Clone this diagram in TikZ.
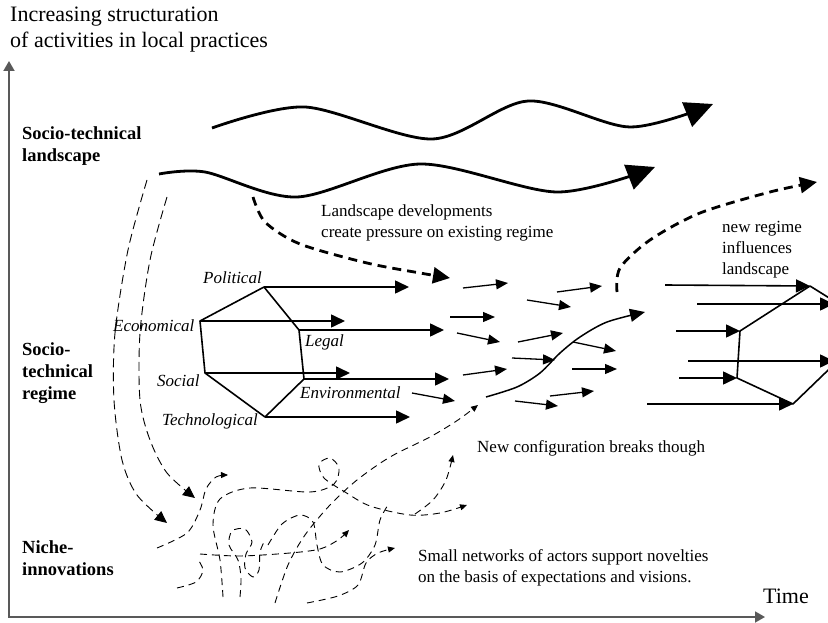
\documentclass[tikz,border=0pt]{standalone}
\usepackage{fontspec}
\setmainfont{Liberation Serif}
\usetikzlibrary{arrows.meta}

\tikzset{
	txt/.style={font=\fontsize{17}{21}\selectfont,anchor=base west,inner sep=0pt,align=left},
	big/.style={font=\fontsize{22}{25.5}\selectfont,anchor=base west,inner sep=0pt,align=left},
	tier/.style={font=\fontsize{18.5}{22}\selectfont\bfseries,anchor=base west,inner sep=0pt,align=left},
	dim/.style={font=\fontsize{17}{21}\selectfont\itshape,anchor=base west,inner sep=0pt},
	wave/.style={line width=2.8pt,-{Triangle[length=28pt,width=26pt]}},
	push/.style={line width=2.8pt,dash pattern=on 9pt off 6pt,-{Triangle[length=17pt,width=16pt]}},
	reg/.style={line width=1.6pt,-{Triangle[length=14pt,width=13pt]}},
	drift/.style={line width=1.3pt,-{Triangle[length=12pt,width=10pt]}},
	seed/.style={line width=0.9pt,dash pattern=on 9pt off 5pt,-{Triangle[length=12pt,width=11pt]}},
	tangle/.style={line width=0.9pt,dash pattern=on 7pt off 5pt},
	sprout/.style={tangle,-{Triangle[length=7pt,width=6pt]}}
}

\begin{document}
\begin{tikzpicture}[x=1pt,y=-1pt]
	\useasboundingbox (0,0) rectangle (828,623);
	\clip (0,0) rectangle (828,623);

	\node[big] (ylab) at (10,47.5) {Increasing structuration\\of activities in local practices};
	\node[big] (xlab) at (763,603) {Time};
	\coordinate (origin) at (9,617);
	\coordinate (ytip) at (9,61);
	\coordinate (xtip) at (765,617);
	\draw[line width=1.8pt,black!65,{Triangle[length=10pt,width=11pt]}-{Triangle[length=10pt,width=11pt]}] (ytip) -- (origin) -- (xtip);

	\node[tier] (land) at (22,162) {Socio-technical\\landscape};
	\node[tier] (regm) at (22,399) {Socio-\\technical\\regime};
	\node[tier] (nich) at (22,575) {Niche-\\innovations};

	\draw[wave] plot[smooth] coordinates {(212,128) (305,107) (432,139) (528,101) (630,127) (713,104)};
	\draw[wave] plot[smooth] coordinates {(159,174) (205,172) (297,197) (420,164) (557,192) (655,167)};

	\node[txt] (press) at (321,237.5) {Landscape developments\\create pressure on existing regime};
	\draw[push] plot[smooth] coordinates {(253,197) (265,222) (300,244) (367,263) (420,273) (450,278)};
	\node[txt] (infl) at (722,274) {new regime\\influences\\landscape};
	\draw[push] plot[smooth] coordinates {(617,292) (620,268) (650,240) (700,213) (770,192) (817,182)};

	\coordinate (pol) at (264,287);
	\coordinate (eco) at (200,321);
	\coordinate (soc) at (205,373);
	\coordinate (tec) at (265,417);
	\coordinate (env) at (304,379);
	\coordinate (leg) at (299,330);
	\draw[line width=1.6pt,line join=round] (pol) -- (eco) -- (soc) -- (tec) -- (env) -- (leg) -- cycle;
	\foreach \v in {pol,eco,leg,soc,env,tec}
		\draw[reg] (\v) -- ++(145,0);
	\node[dim] (polt) at (203,283) {Political};
	\node[dim] (ecot) at (113,331) {Economical};
	\node[dim] (legt) at (305,346) {Legal};
	\node[dim] (soct) at (157,386) {Social};
	\node[dim] (envt) at (300,398) {Environmental};
	\node[dim] (tect) at (162,425) {Technological};

	\foreach \a/\b/\c/\d in {463/288/508/283, 557/292/602/286, 527/300/571/307, 450/317/495/317, 457/333/500/342, 518/342/563/333, 573/342/616/351, 512/358/555/360, 572/369/617/369, 463/375/507/369, 412/393/455/401, 550/396/594/391, 515/401/558/406}
		\draw[drift] (\a,\b) -- (\c,\d);

	\draw[line width=1.5pt,-{Triangle[length=15pt,width=13pt]}] plot[smooth] coordinates {(486,397) (517,387) (540,373) (560,353) (580,337) (607,322) (645,312)};

	\coordinate (na) at (810,286);
	\coordinate (nb) at (740,331);
	\coordinate (nc) at (737,378);
	\coordinate (nd) at (793,404);
	\draw[line width=1.6pt,line join=round] (850,311) -- (na) -- (nb) -- (nc) -- (nd) -- (850,349);
	\draw[reg] (665,285) -- (na);
	\draw[reg] (697,304) -- (834,304);
	\draw[reg] (676,331) -- (nb);
	\draw[reg] (688,361) -- (834,361);
	\draw[reg] (679,378) -- (nc);
	\draw[reg] (647,404) -- (nd);

	\draw[seed] plot[smooth] coordinates {(147,180) (128,250) (115,333) (114,400) (122,460) (137,495) (167,523)};
	\draw[seed] plot[smooth] coordinates {(167,197) (150,260) (140,333) (140,400) (150,440) (167,473) (195,498)};

	\draw[sprout] plot[smooth] coordinates {(157,548) (187,533) (200,510) (206,489) (216,477) (228,475)};
	\draw[sprout] plot[smooth] coordinates {(223,597) (220,560) (213,525) (220,499) (250,488) (310,492) (334,484) (339,468) (330,458) (319,464) (324,478) (345,492) (370,506) (410,515) (440,513) (467,505)};
	\draw[sprout] plot[smooth] coordinates {(275,603) (288,565) (305,535) (330,505) (357,480) (390,457) (430,437) (458,420) (478,405)};
	\draw[tangle] plot[smooth] coordinates {(177,588) (196,582) (203,570) (197,558)};
	\draw[sprout] plot[smooth] coordinates {(200,554) (240,556) (290,553) (320,549) (338,540) (349,530)};
	\draw[tangle] plot[smooth] coordinates {(240,597) (241,578) (238,560) (229,545) (232,531) (245,529) (252,542) (246,554) (245,568) (253,577) (259,570) (260,552) (265,540)};
	\draw[tangle] plot[smooth] coordinates {(268,545) (282,524) (300,515) (313,522) (317,545) (323,565) (340,572) (362,563) (375,545) (380,520) (388,505)};
	\draw[sprout] plot[smooth] coordinates {(307,603) (338,596) (358,585) (366,563) (378,553) (395,548)};
	\draw[sprout] plot[smooth] coordinates {(415,514) (433,500) (446,480) (453,455)};

	\node[txt] (brk) at (477,452) {New configuration breaks though};
	\node[txt] (nets) at (418,582) {Small networks of actors support novelties\\on the basis of expectations and visions.};
\end{tikzpicture}
\end{document}
